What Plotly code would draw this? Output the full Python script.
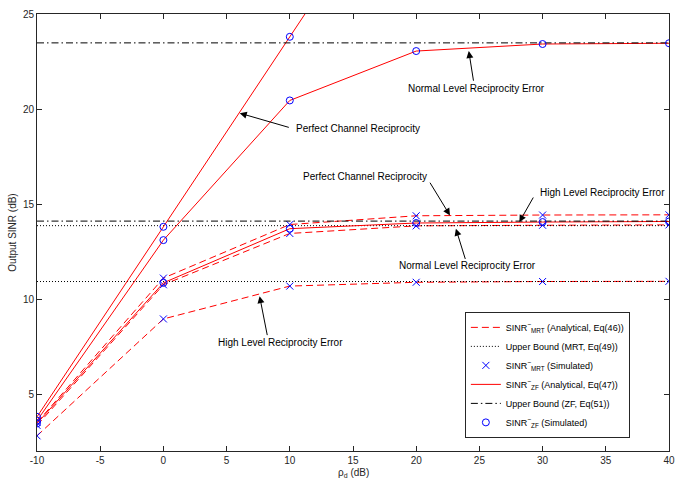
import plotly.graph_objects as go

# ---- data ----
rho_d = [-10, 0, 10, 20, 30, 40]
x_ticks = [-10, -5, 0, 5, 10, 15, 20, 25, 30, 35, 40]
x_tick_labels = ["-10", "-5", "0", "5", "10", "15", "20", "25", "30", "35", "40"]
y_ticks = [5, 10, 15, 20, 25]
y_tick_labels = ["5", "10", "15", "20", "25"]

# ZF analytical curves
zf_perfect = [3.8, 13.8, 23.8, 33.8, 43.8, 53.8]
zf_normal = [3.6, 13.1, 20.45, 23.05, 23.42, 23.46]
zf_high = [3.45, 10.85, 13.7, 14.0, 14.05, 14.08]
# MRT analytical curves
mrt_perfect = [3.5, 11.1, 13.92, 14.38, 14.42, 14.43]
mrt_normal = [3.35, 10.75, 13.45, 13.85, 13.88, 13.9]
mrt_high = [2.8, 8.95, 10.68, 10.88, 10.92, 10.93]
# Upper bounds
zf_bound_normal = 23.48
zf_bound_high = 14.1
mrt_bound_normal = 13.86
mrt_bound_high = 10.92

RED = "#FF0000"
BLUE = "#0000FF"
FONT = "Liberation Sans"

fig = go.Figure()

def add_line(y, dash, color, name, show, group):
    fig.add_trace(go.Scatter(x=rho_d, y=y, mode="lines", name=name,
                             line=dict(color=color, width=1, dash=dash),
                             showlegend=show, legendgroup=group))

def add_markers(y, symbol, name, show, group):
    fig.add_trace(go.Scatter(x=rho_d, y=y, mode="markers", name=name,
                             marker=dict(symbol=symbol, size=7, color=BLUE,
                                         line=dict(color=BLUE, width=1)),
                             showlegend=show, legendgroup=group))

n_mrt = "SINR<sup>~</sup><sub>MRT</sub> (Analytical, Eq(46))"
n_mrtb = "Upper Bound (MRT, Eq(49))"
n_mrts = "SINR<sup>~</sup><sub>MRT</sub> (Simulated)"
n_zf = "SINR<sup>~</sup><sub>ZF</sub> (Analytical, Eq(47))"
n_zfb = "Upper Bound (ZF, Eq(51))"
n_zfs = "SINR<sup>~</sup><sub>ZF</sub> (Simulated)"

DASH = "7px,4px"
DOT = "1px,2px"
DASHDOT = "7px,3px,1.5px,3px"

# MRT analytical
for i, y in enumerate([mrt_perfect, mrt_normal, mrt_high]):
    add_line(y, DASH, RED, n_mrt, i == 0, "mrt")
# MRT bounds
for i, b in enumerate([mrt_bound_normal, mrt_bound_high]):
    add_line([b] * len(rho_d), DOT, "black", n_mrtb, i == 0, "mrtb")
# MRT simulated
for i, y in enumerate([mrt_perfect, mrt_normal, mrt_high]):
    add_markers(y, "x-thin-open", n_mrts, i == 0, "mrts")
# ZF analytical
for i, y in enumerate([zf_perfect, zf_normal, zf_high]):
    add_line(y, "solid", RED, n_zf, i == 0, "zf")
# ZF bounds
for i, b in enumerate([zf_bound_normal, zf_bound_high]):
    add_line([b] * len(rho_d), DASHDOT, "black", n_zfb, i == 0, "zfb")
# ZF simulated
for i, y in enumerate([zf_perfect, zf_normal, zf_high]):
    add_markers(y, "circle-open", n_zfs, i == 0, "zfs")

# ---- annotations ----
texts = [
    ("Normal Level Reciprocity Error", 24.78, 21.09, "center"),
    ("Perfect Channel Reciprocity", 10.35, 19.0, "left"),
    ("Perfect Channel Reciprocity", 21.02, 16.46, "right"),
    ("High Level Reciprocity Error", 29.65, 15.63, "left"),
    ("Normal Level Reciprocity Error", 24.08, 11.77, "center"),
    ("High Level Reciprocity Error", 4.16, 7.71, "left"),
]
for t, x, y, anc in texts:
    fig.add_annotation(x=x, y=y, text=t, showarrow=False, xanchor=anc,
                       yanchor="middle", font=dict(family=FONT, size=10, color="black"))

arrows = [  # (tail x, tail y, head x, head y)
    (24.55, 21.41, 24.16, 23.05),
    (10.04, 19.01, 6.04, 19.78),
    (21.02, 16.2, 22.67, 14.4),
    (29.33, 15.42, 28.16, 14.05),
    (23.92, 12.03, 23.14, 13.7),
    (8.24, 8.02, 7.61, 10.15),
]
for tx, ty, hx, hy in arrows:
    fig.add_annotation(x=hx, y=hy, ax=tx, ay=ty, xref="x", yref="y",
                       axref="x", ayref="y", text="", showarrow=True,
                       arrowhead=2, arrowsize=1.4, arrowwidth=1, arrowcolor="black")

# x-axis title as annotation (placed close under tick labels)
fig.add_annotation(x=0.5, y=-0.05, xref="paper", yref="paper", showarrow=False,
                   text="ρ<sub>d</sub> (dB)", xanchor="center", yanchor="middle",
                   font=dict(family=FONT, size=10, color="#262626"))

axis_common = dict(showline=True, linecolor="#262626", linewidth=1, mirror="ticks",
                   ticks="inside", ticklen=5, tickcolor="#262626", showgrid=False,
                   zeroline=False, tickfont=dict(family=FONT, size=10, color="#262626"))

fig.update_layout(
    width=683, height=483,
    margin=dict(l=37, r=8, t=9, b=32),
    paper_bgcolor="white", plot_bgcolor="white",
    font=dict(family=FONT, size=10, color="#262626"),
    xaxis=dict(range=[-10, 40], tickvals=x_ticks, ticktext=x_tick_labels, **axis_common),
    yaxis=dict(range=[2, 25], tickvals=y_ticks, ticktext=y_tick_labels,
               title=dict(text="Output SINR (dB)", standoff=4,
                          font=dict(family=FONT, size=10)), **axis_common),
    legend=dict(x=0.677, y=0.03, xanchor="left", yanchor="bottom",
                bgcolor="white", bordercolor="#262626", borderwidth=1,
                font=dict(family=FONT, size=9, color="black"),
                tracegroupgap=0, itemwidth=30),
    showlegend=True,
)

fig.write_html("out.html", config={"displayModeBar": False},
               post_script="document.body.style.margin='0';")
